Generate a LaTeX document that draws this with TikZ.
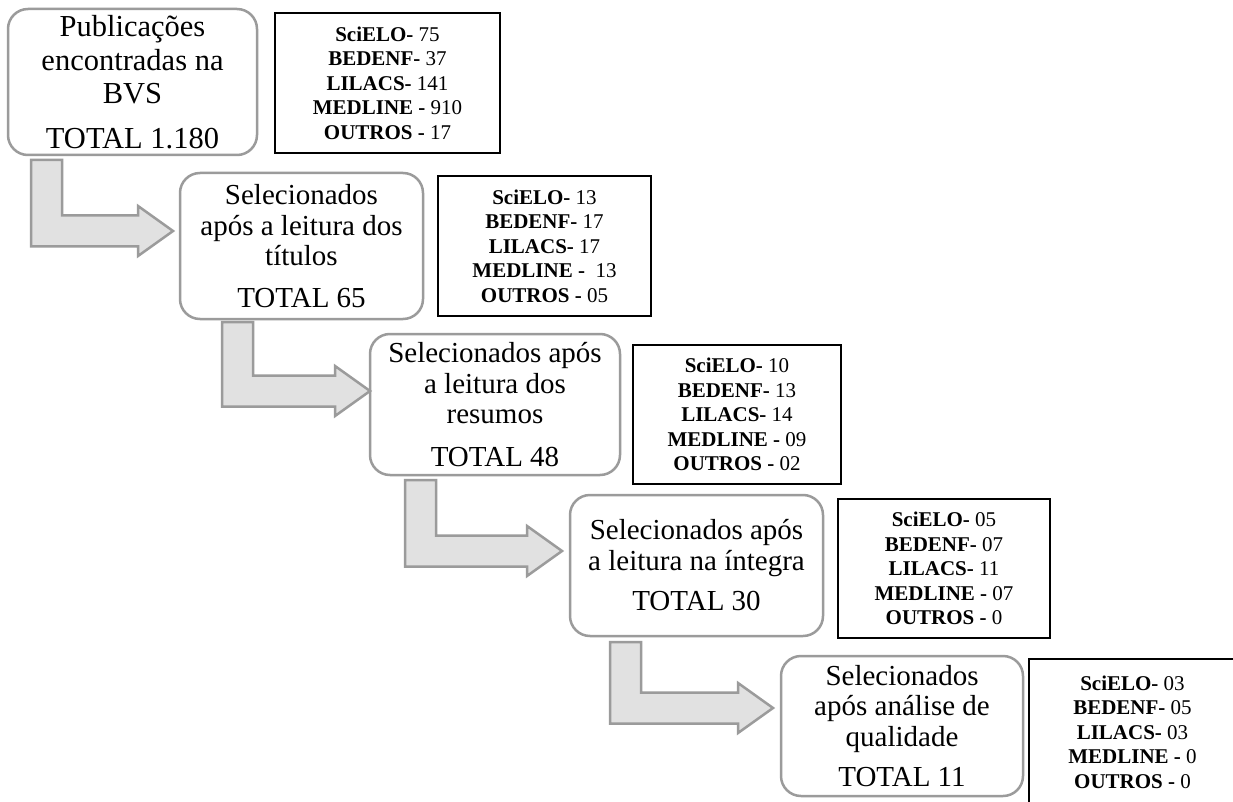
\documentclass[tikz,border=0pt]{standalone}
\usepackage{fontspec}
\setmainfont{LiberationSerif}[Extension=.ttf, UprightFont=*-Regular, BoldFont=*-Bold, ItalicFont=*-Italic, BoldItalicFont=*-BoldItalic]
\usetikzlibrary{calc}
\definecolor{boxgray}{HTML}{9B9B9B}
\definecolor{arrowfill}{HTML}{E1E1E1}
\tikzset{
  stage/.style={draw=boxgray, line width=2.5pt, rounded corners=20pt, align=center,
    inner sep=0pt, outer sep=0pt, font=\fontsize{29}{30.5}\selectfont},
  countbox/.style={draw=black, line width=1.3pt, align=center, inner sep=0pt,
    outer sep=0pt, font=\fontsize{21}{24.5}\selectfont},
  barrow/.style={draw=boxgray, fill=arrowfill, line width=2.5pt, line join=miter},
}
\newcommand\bentarrow[2]{%
  \draw[barrow] let \p1=(#1), \p2=(#2) in
    (\x1,\y1) -- (\x1+31pt,\y1) -- (\x1+31pt,\y2+15.5pt) -- (\x2-35pt,\y2+15.5pt)
    -- (\x2-35pt,\y2+25pt) -- (\x2,\y2) -- (\x2-35pt,\y2-25pt) -- (\x2-35pt,\y2-15.5pt)
    -- (\x1,\y2-15.5pt) -- cycle;}
\begin{document}
\begin{tikzpicture}[x=1pt,y=-1pt]
\useasboundingbox (0,0) rectangle (1233,802);
\fill[white] (0,0) rectangle (1233,802);
\clip (0,0) rectangle (1233,802);

% stage boxes
\node[stage, minimum width=249pt, minimum height=146pt, font=\fontsize{30.5}{33.5}\selectfont] (b1) at (132.5,82)
  {Publicações\\encontradas na\\BVS\\[11pt]TOTAL 1.180};
\node[stage, minimum width=243pt, minimum height=146pt] (b2) at (301.5,246)
  {Selecionados\\após a leitura dos\\títulos\\[11pt]TOTAL 65};
\node[stage, minimum width=250pt, minimum height=141pt] (b3) at (495,404.5)
  {Selecionados após\\a leitura dos\\resumos\\[12pt]TOTAL 48};
\node[stage, minimum width=253pt, minimum height=141pt] (b4) at (696.5,565.5)
  {Selecionados após\\a leitura na íntegra\\[10pt]TOTAL 30};
\node[stage, minimum width=242pt, minimum height=140pt] (b5) at (902,726)
  {Selecionados\\após análise de\\qualidade\\[10pt]TOTAL 11};

% count boxes
\node[countbox, minimum width=225pt, minimum height=140pt] (c1) at (387.5,83)
  {\textbf{SciELO-} 75\\\textbf{BEDENF-} 37\\\textbf{LILACS-} 141\\\textbf{MEDLINE -} 910\\\textbf{OUTROS -} 17};
\node[countbox, minimum width=213pt, minimum height=140pt] (c2) at (544.5,246)
  {\textbf{SciELO-} 13\\\textbf{BEDENF-} 17\\\textbf{LILACS-} 17\\\textbf{MEDLINE -}\ \ 13\\\textbf{OUTROS -} 05};
\node[countbox, minimum width=208pt, minimum height=139pt] (c3) at (737,414.5)
  {\textbf{SciELO-} 10\\\textbf{BEDENF-} 13\\\textbf{LILACS-} 14\\\textbf{MEDLINE -} 09\\\textbf{OUTROS -} 02};
\node[countbox, minimum width=212pt, minimum height=139pt] (c4) at (944,568.5)
  {\textbf{SciELO-} 05\\\textbf{BEDENF-} 07\\\textbf{LILACS-} 11\\\textbf{MEDLINE -} 07\\\textbf{OUTROS -} 0};
\node[countbox, minimum width=207pt, minimum height=146pt] (c5) at (1132.5,732)
  {\textbf{SciELO-} 03\\\textbf{BEDENF-} 05\\\textbf{LILACS-} 03\\\textbf{MEDLINE -} 0\\\textbf{OUTROS -} 0};

% arrow anchors
\coordinate (a1s) at ($(b1.south west)+(23,5)$);
\coordinate (a1t) at ($(b2.west)+(-7,-15)$);
\coordinate (a2s) at ($(b2.south west)+(42,3)$);
\coordinate (a2t) at ($(b3.west)+(0,-13.5)$);
\coordinate (a3s) at ($(b3.south west)+(35,5)$);
\coordinate (a3t) at ($(b4.west)+(-8,-14.5)$);
\coordinate (a4s) at ($(b4.south west)+(40,6)$);
\coordinate (a4t) at ($(b5.west)+(-8,-18)$);
\bentarrow{a1s}{a1t}
\bentarrow{a2s}{a2t}
\bentarrow{a3s}{a3t}
\bentarrow{a4s}{a4t}
\end{tikzpicture}
\end{document}
